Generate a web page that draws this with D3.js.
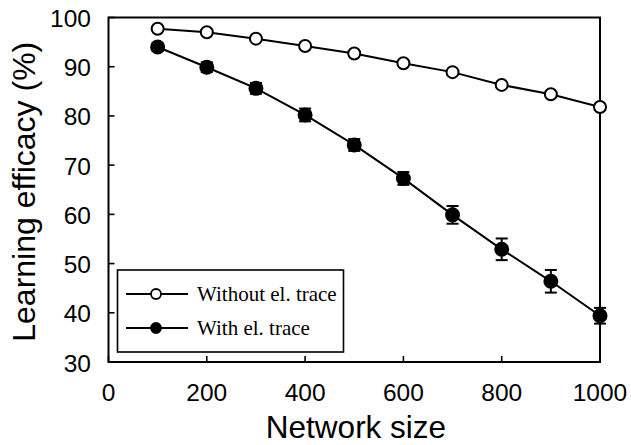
<!DOCTYPE html>
<html>
<head>
<meta charset="utf-8">
<script src="https://cdn.jsdelivr.net/npm/d3@7"></script>
<style>
  html, body { margin: 0; padding: 0; background: #fff; }
  svg { display: block; }
  .tick-label { font-family: "Liberation Sans", Arial, sans-serif; font-size: 24.5px; fill: #000; }
  .axis-title { font-family: "Liberation Sans", Arial, sans-serif; fill: #000; }
  .legend-text { font-family: "Liberation Serif", "Times New Roman", serif; font-size: 21px; fill: #000; }
</style>
</head>
<body>
<svg id="chart" width="631" height="445"></svg>
<script>
// network sizes and learning efficacy (%)
const sizes = [100, 200, 300, 400, 500, 600, 700, 800, 900, 1000];
const withoutTrace = [97.7, 97.0, 95.7, 94.2, 92.7, 90.7, 88.9, 86.3, 84.4, 81.8];
const withoutErr = [0.3, 0.3, 0.3, 0.3, 0.3, 0.3, 0.3, 0.3, 0.3, 0.3];
const withTrace = [94.0, 89.9, 85.6, 80.2, 74.1, 67.3, 59.9, 52.9, 46.4, 39.4];
const withErr = [0.8, 1.0, 1.1, 1.3, 1.2, 1.3, 1.8, 2.2, 2.3, 1.6];
const xTicks = [0, 200, 400, 600, 800, 1000];
const yTicks = [30, 40, 50, 60, 70, 80, 90, 100];

const svg = d3.select('#chart');
const plot = { left: 108.5, right: 600, top: 17.5, bottom: 362 };

const x = d3.scaleLinear().domain([0, 1000]).range([plot.left, plot.right]);
const y = d3.scaleLinear().domain([30, 100]).range([plot.bottom, plot.top]);

// frame
svg.append('rect')
  .attr('x', plot.left).attr('y', plot.top)
  .attr('width', plot.right - plot.left).attr('height', plot.bottom - plot.top)
  .attr('fill', 'none').attr('stroke', '#000').attr('stroke-width', 2);

// inward ticks
svg.append('g').selectAll('line').data(xTicks).join('line')
  .attr('x1', (d) => x(d)).attr('x2', (d) => x(d))
  .attr('y1', plot.bottom).attr('y2', plot.bottom - 6)
  .attr('stroke', '#000').attr('stroke-width', 1.6);
svg.append('g').selectAll('line').data(yTicks).join('line')
  .attr('x1', plot.left).attr('x2', plot.left + 6)
  .attr('y1', (d) => y(d)).attr('y2', (d) => y(d))
  .attr('stroke', '#000').attr('stroke-width', 1.6);

svg.append('g').selectAll('text').data(xTicks).join('text')
  .attr('class', 'tick-label')
  .attr('x', (d) => x(d)).attr('y', 401)
  .attr('text-anchor', 'middle')
  .text((d) => d);
svg.append('g').selectAll('text').data(yTicks).join('text')
  .attr('class', 'tick-label')
  .attr('x', 91).attr('y', (d) => y(d) + 9.5)
  .attr('text-anchor', 'end')
  .text((d) => d);

svg.append('text').attr('class', 'axis-title')
  .attr('x', 356).attr('y', 438)
  .attr('text-anchor', 'middle')
  .style('font-size', '31.5px')
  .text('Network size');
svg.append('text').attr('class', 'axis-title')
  .attr('transform', `translate(35,${(plot.top + plot.bottom) / 2 + 2}) rotate(-90)`)
  .attr('text-anchor', 'middle')
  .style('font-size', '32px')
  .text('Learning efficacy (%)');

const line = d3.line().x((d) => x(d[0])).y((d) => y(d[1]));

function drawSeries(vals, errs, fill, r) {
  const pts = sizes.map((s, i) => [s, vals[i], errs[i]]);
  const g = svg.append('g');
  g.append('path').datum(pts).attr('d', line)
    .attr('fill', 'none').attr('stroke', '#000').attr('stroke-width', 2);
  const eb = g.append('g').selectAll('g').data(pts).join('g')
    .attr('stroke', '#000').attr('stroke-width', 2);
  eb.append('line')
    .attr('x1', (d) => x(d[0])).attr('x2', (d) => x(d[0]))
    .attr('y1', (d) => y(d[1] - d[2])).attr('y2', (d) => y(d[1] + d[2]));
  [1, -1].forEach((sgn) => {
    eb.append('line')
      .attr('x1', (d) => x(d[0]) - 6).attr('x2', (d) => x(d[0]) + 6)
      .attr('y1', (d) => y(d[1] + sgn * d[2])).attr('y2', (d) => y(d[1] + sgn * d[2]));
  });
  g.append('g').selectAll('circle').data(pts).join('circle')
    .attr('cx', (d) => x(d[0])).attr('cy', (d) => y(d[1]))
    .attr('r', r)
    .attr('fill', fill).attr('stroke', '#000').attr('stroke-width', 2);
}

drawSeries(withTrace, withErr, '#000', 6.5);
drawSeries(withoutTrace, withoutErr, '#fff', 6);

// legend
const legend = svg.append('g');
legend.append('rect')
  .attr('x', 117.5).attr('y', 270)
  .attr('width', 226).attr('height', 82)
  .attr('fill', '#fff').attr('stroke', '#000').attr('stroke-width', 1.6);
const items = [
  { label: 'Without el. trace', fill: '#fff', cy: 294 },
  { label: 'With el. trace', fill: '#000', cy: 328 },
];
const row = legend.selectAll('g').data(items).join('g');
row.append('line')
  .attr('x1', 126).attr('x2', 188)
  .attr('y1', (d) => d.cy).attr('y2', (d) => d.cy)
  .attr('stroke', '#000').attr('stroke-width', 2);
row.append('circle')
  .attr('cx', 156).attr('cy', (d) => d.cy).attr('r', 5)
  .attr('fill', (d) => d.fill).attr('stroke', '#000').attr('stroke-width', 1.8);
row.append('text').attr('class', 'legend-text')
  .attr('x', 197).attr('y', (d) => d.cy + 7)
  .text((d) => d.label);
</script>
</body>
</html>
